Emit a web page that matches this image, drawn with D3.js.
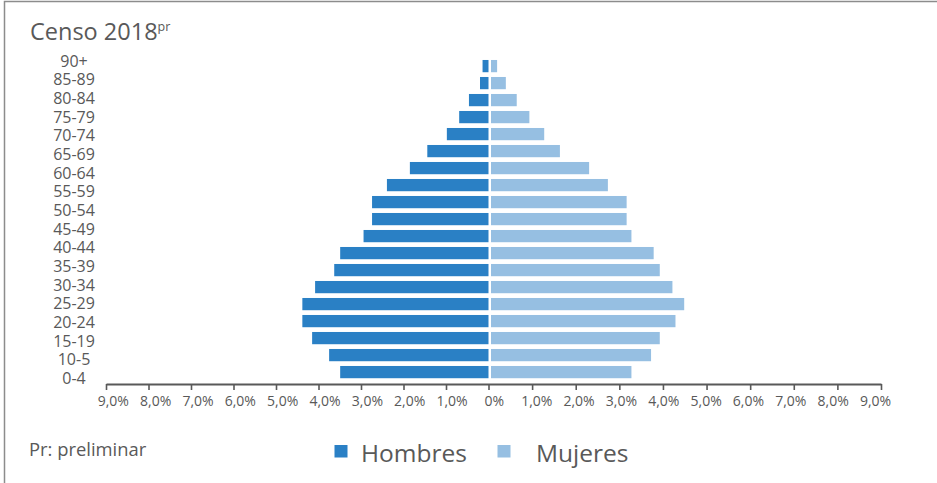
<!DOCTYPE html>
<html>
<head>
<meta charset="utf-8">
<script src="https://cdn.jsdelivr.net/npm/d3@7"></script>
<style>
  body { margin: 0; background: #fff; }
  svg { display: block; font-family: "Open Sans", sans-serif; }
</style>
</head>
<body>
<svg width="937" height="483"></svg>
<script>
// age groups, top to bottom (the original has one more bar row than labels)
var ageLabels = ["90+","85-89","80-84","75-79","70-74","65-69","60-64","55-59","50-54","45-49","40-44","35-39","30-34","25-29","20-24","15-19","10-5","0-4"];
var hombres = [0.14,0.20,0.46,0.69,0.98,1.44,1.85,2.39,2.74,2.74,2.94,3.49,3.63,4.08,4.38,4.38,4.15,3.75,3.49];
var mujeres = [0.14,0.34,0.59,0.88,1.22,1.58,2.25,2.68,3.11,3.11,3.22,3.73,3.87,4.16,4.43,4.23,3.87,3.67,3.22];
var tickLabels = ["9,0%","8,0%","7,0%","6,0%","5,0%","4,0%","3,0%","2,0%","1,0%","0%","1,0%","2,0%","3,0%","4,0%","5,0%","6,0%","7,0%","8,0%","9,0%"];
var legendItems = ["Hombres","Mujeres"];

var colorH = "#2a80c5", colorM = "#96bfe2", textColor = "#595959";

var svg = d3.select("svg");

// frame (top and left only)
svg.append("path")
    .attr("d", "M4.5,483V1.5H937")
    .attr("fill", "none")
    .attr("stroke", "#8c8c8c")
    .attr("stroke-width", 1.5);

var title = svg.append("text")
    .attr("x", 30).attr("y", 40)
    .attr("fill", textColor)
    .style("font-size", "23.5px")
    .text("Censo 2018");
title.append("tspan")
    .attr("dy", -9)
    .style("font-size", "12.5px")
    .text("pr");

var leftX = d3.scaleLinear().domain([0, 9]).range([488.5, 106]);
var rightX = d3.scaleLinear().domain([0, 9]).range([488.5, 881]);

var yBar = d3.scaleBand()
    .domain(d3.range(hombres.length))
    .range([57.6, 380.6])
    .paddingInner(0.28)
    .paddingOuter(0.14);

var yLab = d3.scalePoint().domain(ageLabels).range([66.7, 384]);

svg.append("g").selectAll("rect")
    .data(hombres)
    .join("rect")
    .attr("x", function(d){ return leftX(d); })
    .attr("y", function(d, i){ return yBar(i); })
    .attr("width", function(d){ return leftX(0) - leftX(d); })
    .attr("height", yBar.bandwidth())
    .attr("fill", colorH);

svg.append("g").selectAll("rect")
    .data(mujeres)
    .join("rect")
    .attr("x", rightX(0) + 2.5)
    .attr("y", function(d, i){ return yBar(i); })
    .attr("width", function(d){ return rightX(d) - rightX(0); })
    .attr("height", yBar.bandwidth())
    .attr("fill", colorM);

svg.append("g").selectAll("text")
    .data(ageLabels)
    .join("text")
    .attr("x", 74)
    .attr("y", function(d){ return yLab(d); })
    .attr("text-anchor", "middle")
    .attr("fill", textColor)
    .style("font-size", "16px")
    .text(function(d){ return d; });

// x axis: ticks from the two half scales, labels placed evenly like the original
var axisY = 384;
var gl = svg.append("g").attr("transform", "translate(0," + axisY + ")")
    .call(d3.axisBottom(leftX).tickValues(d3.range(0, 10)).tickFormat("").tickSize(6).tickSizeOuter(0));
var gr = svg.append("g").attr("transform", "translate(0," + axisY + ")")
    .call(d3.axisBottom(rightX).tickValues(d3.range(1, 10)).tickFormat("").tickSize(6).tickSizeOuter(0));
[gl, gr].forEach(function(g){
    g.select(".domain").attr("stroke", textColor).attr("stroke-width", 2);
    g.selectAll(".tick line").attr("stroke", textColor).attr("stroke-width", 1.6);
});

var xLab = d3.scalePoint().domain(d3.range(tickLabels.length)).range([113.3, 875.5]);
svg.append("g").selectAll("text")
    .data(tickLabels)
    .join("text")
    .attr("x", function(d, i){ return xLab(i); })
    .attr("y", 406)
    .attr("text-anchor", "middle")
    .attr("fill", textColor)
    .style("font-size", "14px")
    .text(function(d){ return d; });

svg.append("text")
    .attr("x", 29).attr("y", 455.5)
    .attr("fill", textColor)
    .style("font-size", "18.4px")
    .text("Pr: preliminar");

// legend
var legX = [334.5, 497.5], legTextX = [361, 536];
var leg = svg.append("g").selectAll("g")
    .data(legendItems)
    .join("g");
leg.append("rect")
    .attr("x", function(d, i){ return legX[i]; })
    .attr("y", 445)
    .attr("width", 13).attr("height", 12.5)
    .attr("fill", function(d, i){ return i == 0 ? colorH : colorM; });
leg.append("text")
    .attr("x", function(d, i){ return legTextX[i]; })
    .attr("y", 461.5)
    .attr("fill", textColor)
    .style("font-size", "24.5px")
    .text(function(d){ return d; });
</script>
</body>
</html>
